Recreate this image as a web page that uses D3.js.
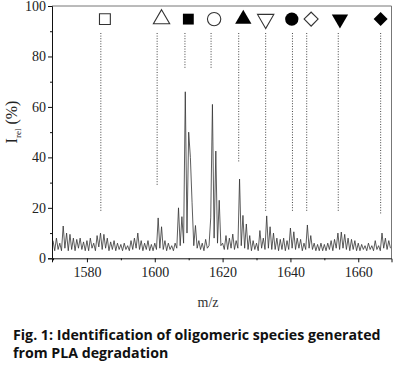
<!DOCTYPE html>
<meta charset="utf-8">
<script src="https://d3js.org/d3.v7.min.js"></script>
<style>
  body { margin: 0; background: #fff; }
</style>
<div id="chart"></div>
<script>
// spectrum: relative intensity (%) sampled every 0.5 m/z from 1570
var mzStart = 1570, mzStep = 0.5;
var intensity = [
  7, 3, 8, 3.5, 6, 3, 12.8, 4, 10, 3, 9.5, 3.5, 8, 3, 7.5, 4, 8, 3.5, 6.5, 3,
  7, 3, 8, 4, 6, 3, 9, 4.5, 10, 3.5, 9.5, 4, 8, 3, 6.5, 3.5, 7, 3, 6, 3.5,
  5.5, 3, 6, 3.5, 5, 3, 7, 3.5, 8, 4, 10, 3.5, 7, 3, 6, 3.5, 7, 3, 5.5, 3,
  6, 3.5, 16, 4, 12.5, 3.5, 7, 3, 6, 3.5, 5, 3, 6, 4, 20, 5, 16.5, 6, 66, 10,
  50, 40, 22, 5, 13, 4, 7, 3.5, 6, 3, 7.5, 4, 5, 16, 61, 8, 42.5, 6, 23, 5,
  6, 3.5, 9, 3.5, 8, 4, 9.6, 3.5, 7, 4, 31.4, 5, 17, 4, 13.6, 3.5, 9, 3, 7, 3.5,
  6, 3, 11, 4, 8, 3.5, 16.8, 4, 12.5, 3.5, 10, 3.5, 8, 3, 7.5, 3.5, 8, 3, 7, 3.5,
  12, 4, 10.5, 3.5, 8, 4, 7.5, 3, 6, 3.5, 13.2, 4, 9, 3.5, 6, 3, 5.5, 3, 6, 3,
  5.5, 3, 6, 3.5, 7, 3, 7.5, 4, 10, 3.5, 10.4, 4, 9.5, 3.5, 8, 3, 7.5, 3.5, 7, 3,
  6, 3, 5.5, 3.5, 5, 3, 6, 3.5, 5, 3, 7, 3.5, 5, 3, 10, 4, 8, 3.5, 7, 4
];

// oligomeric species: marker symbol, dotted guide line and marker positions
var speciesSymbol = ["square-open", "triangle-open", "square", "circle-open", "triangle",
                     "triangle-down-open", "circle", "diamond-open", "triangle-down", "diamond"];
var guideMz = [1584.1, 1600.7, 1608.9, 1616.6, 1624.75, 1632.7, 1640.6, 1644.8, 1654.1, 1666.6];
var markerMz = [1585.3, 1602.0, 1609.9, 1617.5, 1626.1, 1632.7, 1640.4, 1646.1, 1654.6, 1666.6];
var guideBottom = [18.5, 29, 75, 75, 38, 18.5, 18.5, 18.5, 18.5, 17.5];
var guideTop = 89.3, markerLevel = 94.8;

var xTicks = [1580, 1600, 1620, 1640, 1660];
var xMinor = [1570, 1590, 1610, 1630, 1650];
var yTicks = [0, 20, 40, 60, 80, 100];
var yMinor = [10, 30, 50, 70, 90];

var W = 408, H = 370;
var plot = {left: 52, right: 391.5, top: 6, bottom: 258.3};

var svg = d3.select("#chart").append("svg")
    .attr("width", W).attr("height", H)
    .style("background", "#fff");

var x = d3.scaleLinear().domain([1569.7, 1669.8]).range([plot.left, plot.right]);
var y = d3.scaleLinear().domain([0, 100]).range([plot.bottom, plot.top]);

// frame top + right
svg.append("path")
    .attr("d", `M${plot.left},${plot.top}H${plot.right}V${plot.bottom}`)
    .attr("fill", "none")
    .attr("stroke", "#777")
    .attr("stroke-width", 1);

// spectrum line
var spectrum = intensity.map((v, i) => ({mz: mzStart + i * mzStep, v: v}));
svg.append("path")
    .datum(spectrum)
    .attr("fill", "none")
    .attr("stroke", "#333")
    .attr("stroke-width", 0.8)
    .attr("d", d3.line().x(d => x(d.mz)).y(d => y(d.v)));

// dotted guide lines
svg.append("g")
  .selectAll("line")
  .data(guideMz)
  .join("line")
    .attr("x1", d => x(d)).attr("x2", d => x(d))
    .attr("y1", y(guideTop))
    .attr("y2", (d, i) => y(guideBottom[i]))
    .attr("stroke", "#444")
    .attr("stroke-width", 1)
    .attr("stroke-dasharray", "1,1.6");

// species markers
function markerPath(name) {
  var base = name.replace("-open", "");
  if (base === "square") return d3.symbol(d3.symbolSquare, 118)();
  if (base === "circle") return d3.symbol(d3.symbolCircle, 140)();
  if (base.startsWith("triangle")) return d3.symbol(d3.symbolTriangle, 115)();
  return d3.symbol(d3.symbolSquare, 98)(); // diamond = rotated square
}
function markerRotate(name) {
  if (name.startsWith("triangle-down")) return 180;
  if (name.startsWith("diamond")) return 45;
  return 0;
}
svg.append("g")
  .selectAll("path")
  .data(speciesSymbol)
  .join("path")
    .attr("d", d => markerPath(d))
    .attr("transform", (d, i) => `translate(${x(markerMz[i])},${y(markerLevel)}) rotate(${markerRotate(d)})`)
    .attr("fill", d => d.endsWith("-open") ? "#fff" : "#000")
    .attr("stroke", d => d.endsWith("-open") ? "#333" : "none")
    .attr("stroke-width", 1.1);

// axes
var font = "'Liberation Serif', 'Times New Roman', serif";

svg.append("g")
    .attr("transform", `translate(0,${plot.bottom})`)
    .call(d3.axisBottom(x).tickValues(xTicks).tickSize(4).tickPadding(5).tickFormat(d3.format("d")));
svg.append("g")
    .attr("transform", `translate(0,${plot.bottom})`)
    .call(d3.axisBottom(x).tickValues(xMinor).tickSize(2).tickFormat(""))
    .call(g => g.select(".domain").remove());

svg.append("g")
    .attr("transform", `translate(${plot.left},0)`)
    .call(d3.axisLeft(y).tickValues(yTicks).tickSize(4).tickPadding(2));
svg.append("g")
    .attr("transform", `translate(${plot.left},0)`)
    .call(d3.axisLeft(y).tickValues(yMinor).tickSize(2).tickFormat(""))
    .call(g => g.select(".domain").remove());

svg.selectAll(".tick text")
    .attr("font-family", font)
    .attr("font-size", 14)
    .attr("fill", "#222");
svg.selectAll(".domain, .tick line").attr("stroke", "#111");

// axis titles
svg.append("text")
    .attr("x", 208).attr("y", 307)
    .attr("text-anchor", "middle")
    .attr("font-family", font)
    .attr("font-size", 14)
    .attr("fill", "#333")
    .text("m/z");

var yt = svg.append("text")
    .attr("transform", "translate(17,122) rotate(-90)")
    .attr("text-anchor", "middle")
    .attr("font-family", font)
    .attr("font-size", 16)
    .attr("fill", "#222");
yt.append("tspan").text("I");
yt.append("tspan").attr("font-size", 9).attr("dy", 4).text("rel");
yt.append("tspan").attr("dy", -4).text(" (%)");

// caption
var cap = svg.append("text")
    .attr("font-family", "'Open Sans', Lato, sans-serif")
    .attr("font-weight", "bold")
    .attr("font-size", 14.2)
    .attr("fill", "#111");
cap.append("tspan").attr("x", 13).attr("y", 340).text("Fig. 1: Identification of oligomeric species generated");
cap.append("tspan").attr("x", 13).attr("y", 358).text("from PLA degradation");
</script>
